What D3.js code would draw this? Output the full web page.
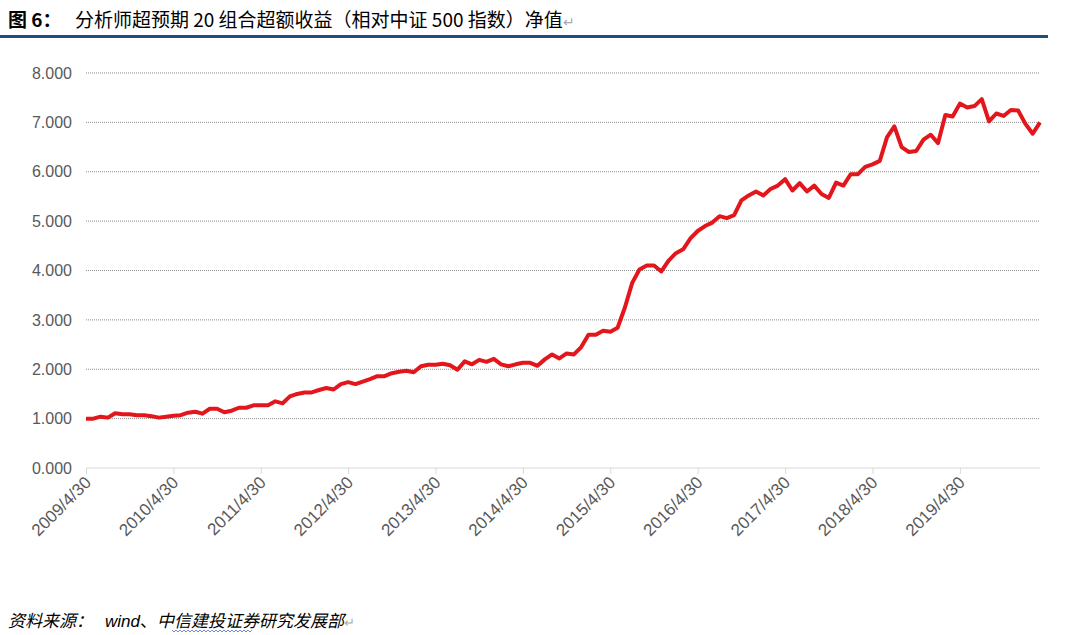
<!DOCTYPE html>
<html>
<head>
<meta charset="utf-8">
<script src="https://cdn.jsdelivr.net/npm/d3@7"></script>
<style>
  body { margin: 0; background: #fff; }
</style>
</head>
<body>
<script>
// monthly net value, 2009/4 .. 2020/3
var navValues = [
  1.00, 1.00, 1.04, 1.02, 1.11, 1.09, 1.09, 1.07, 1.07, 1.05, 1.02, 1.04,
  1.06, 1.07, 1.12, 1.14, 1.10, 1.20, 1.20, 1.13, 1.16, 1.22, 1.22, 1.27,
  1.27, 1.27, 1.35, 1.31, 1.45, 1.50, 1.53, 1.53, 1.58, 1.62, 1.59, 1.70,
  1.74, 1.70, 1.75, 1.80, 1.86, 1.86, 1.92, 1.95, 1.97, 1.94, 2.06, 2.09,
  2.09, 2.11, 2.08, 1.99, 2.16, 2.10, 2.19, 2.15, 2.21, 2.10, 2.06, 2.10,
  2.13, 2.13, 2.07, 2.20, 2.30, 2.22, 2.32, 2.30, 2.45, 2.70, 2.70, 2.78,
  2.76, 2.84, 3.25, 3.75, 4.02, 4.10, 4.10, 3.98, 4.20, 4.35, 4.43, 4.65,
  4.80, 4.90, 4.97, 5.10, 5.06, 5.12, 5.42, 5.52, 5.60, 5.52, 5.65, 5.72,
  5.85, 5.62, 5.77, 5.60, 5.72, 5.55, 5.47, 5.78, 5.72, 5.95, 5.95, 6.10,
  6.15, 6.22, 6.70, 6.92, 6.50, 6.40, 6.42, 6.65, 6.75, 6.58, 7.15, 7.12,
  7.38, 7.30, 7.33, 7.47, 7.02, 7.18, 7.13, 7.25, 7.24, 6.97, 6.77, 7.00
];
var xTickLabels = ["2009/4/30", "2010/4/30", "2011/4/30", "2012/4/30", "2013/4/30",
  "2014/4/30", "2015/4/30", "2016/4/30", "2017/4/30", "2018/4/30", "2019/4/30"];
var yTicks = [0, 1, 2, 3, 4, 5, 6, 7, 8];

var titleLabel = "图 6：";
var titleText = "分析师超预期 20 组合超额收益（相对中证 500 指数）净值";
var sourceLabel = "资料来源：";
var sourceWind = "wind";
var sourceOrg = "中信建投证券研究发展部";

var W = 1070, H = 635;
var margin = {top: 73, right: 30, bottom: 167, left: 86};
var plotW = 1040 - margin.left;
var plotH = 468 - margin.top;

var svg = d3.select("body").append("svg")
    .attr("width", W)
    .attr("height", H);

var cjk = "'Noto Sans CJK SC', 'Noto Sans', sans-serif";
var latin = "'Liberation Sans', Arial, sans-serif";

// title
var title = svg.append("text")
    .attr("x", 8)
    .attr("y", 27)
    .attr("font-family", cjk)
    .attr("font-size", "19px")
    .attr("fill", "#000");
title.append("tspan").attr("font-weight", "bold").text(titleLabel);
title.append("tspan").attr("x", 75).text(titleText);
title.append("tspan").attr("fill", "#aaa").attr("font-size", "14px").text("\u21b5");

svg.append("rect")
    .attr("x", 0)
    .attr("y", 35)
    .attr("width", 1048)
    .attr("height", 3)
    .attr("fill", "#1f4e79");

var graph = svg.append("g")
    .attr("transform", "translate(" + margin.left + "," + margin.top + ")");

var x = d3.scaleLinear()
    .domain([0, navValues.length - 1])
    .range([0, plotW]);

var y = d3.scaleLinear()
    .domain([0, 8])
    .range([plotH, 0]);

// grid
graph.append("g")
    .selectAll("line")
    .data(yTicks.filter(function(d) { return d > 0; }))
    .enter()
    .append("line")
    .attr("x1", 0)
    .attr("x2", plotW)
    .attr("y1", function(d) { return y(d); })
    .attr("y2", function(d) { return y(d); })
    .attr("stroke", "#8c8c8c")
    .attr("stroke-width", 1)
    .attr("stroke-dasharray", "1,1");

// y axis labels
var yAxis = d3.axisLeft(y)
    .tickValues(yTicks)
    .tickSize(0)
    .tickPadding(14)
    .tickFormat(d3.format(".3f"));
var yAxisGroup = graph.append("g").call(yAxis);
yAxisGroup.select(".domain").remove();
yAxisGroup.selectAll("text")
    .attr("font-family", latin)
    .attr("font-size", "16px")
    .attr("fill", "#595959");

// x axis
var xAxis = d3.axisBottom(x)
    .tickValues(xTickLabels.map(function(d, i) { return i * 12; }))
    .tickSize(6)
    .tickFormat(function(d, i) { return xTickLabels[i]; });
var xAxisGroup = graph.append("g")
    .attr("transform", "translate(0," + plotH + ")")
    .call(xAxis);
xAxisGroup.select(".domain")
    .attr("stroke", "#d9d9d9")
    .attr("d", "M0,0H" + plotW);
xAxisGroup.selectAll(".tick line").attr("stroke", "#d9d9d9");
xAxisGroup.selectAll("text")
    .attr("font-family", latin)
    .attr("font-size", "17px")
    .attr("fill", "#595959")
    .attr("text-anchor", "end")
    .attr("dy", "0.35em")
    .attr("transform", "translate(-5,5) rotate(-45)");

// line
var line = d3.line()
    .x(function(d, i) { return x(i); })
    .y(function(d) { return y(d); });

graph.append("path")
    .datum(navValues)
    .attr("fill", "none")
    .attr("stroke", "#e3161c")
    .attr("stroke-width", 4)
    .attr("stroke-linejoin", "round")
    .attr("d", line);

// source
var src = svg.append("text")
    .attr("x", 8)
    .attr("y", 627)
    .attr("font-family", cjk)
    .attr("font-size", "17px")
    .attr("fill", "#000");
src.append("tspan").attr("font-style", "italic").text(sourceLabel);
src.append("tspan").attr("x", 105).attr("font-family", latin).attr("font-style", "italic").text(sourceWind);
src.append("tspan").text("、");
src.append("tspan").attr("x", 157).attr("font-style", "italic").text(sourceOrg);
src.append("tspan").attr("fill", "#aaa").attr("font-size", "13px").text("\u21b5");

// spell-check squiggle under part of the source line
var squiggle = [];
for (var sx = 172; sx <= 253; sx += 2) {
  squiggle.push([sx, (sx / 2) % 2 === 0 ? 630 : 632]);
}
svg.append("path")
    .attr("d", d3.line()(squiggle))
    .attr("fill", "none")
    .attr("stroke", "#4a6fc9")
    .attr("stroke-width", 0.8);
</script>
</body>
</html>
